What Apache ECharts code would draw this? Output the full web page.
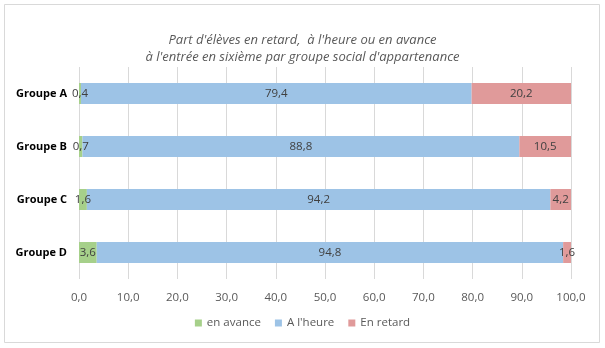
<!DOCTYPE html>
<html><head><meta charset="utf-8">
<script src="https://cdn.jsdelivr.net/npm/echarts@6/dist/echarts.min.js"></script>
<style>html,body{margin:0;padding:0;background:#fff}#c{width:605px;height:348px}</style>
</head><body><div id="c"></div>
<script>
const categories = ['Groupe A','Groupe B','Groupe C','Groupe D'];
const enAvance = [0.4, 0.7, 1.6, 3.6];
const aLHeure = [79.4, 88.8, 94.2, 94.8];
const enRetard = [20.2, 10.5, 4.2, 1.6];
const xTicks = [0,10,20,30,40,50,60,70,80,90,100];
const seriesNames = ['en avance', "A l'heure", 'En retard'];
const colors = ['#a6d08a', '#9dc3e6', '#e09a9a'];

const fmt = v => v.toFixed(1).replace('.', ',');
const chart = echarts.init(document.getElementById('c'), null, {renderer:'canvas'});
const mk = (name, data, color) => ({
  name, type:'bar', stack:'s', data, barWidth:21,
  itemStyle:{color},
  label:{show:true, position:'inside', formatter:p=>fmt(p.value), color:'#404040', fontSize:11.5, fontFamily:'Open Sans'},
  emphasis:{disabled:true}
});
chart.setOption({
  animation:false,
  graphic:[{type:'rect', shape:{x:4.5,y:4.5,width:595,height:338}, style:{fill:'#fff', stroke:'#d9d9d9', lineWidth:1}, z:-10}],
  title:{text:"Part d'élèves en retard,  à l'heure ou en avance\nà l'entrée en sixième par groupe social d'appartenance",
    left:'center', top:27, textStyle:{fontStyle:'italic', fontWeight:'normal', fontSize:13, color:'#595959', fontFamily:'Open Sans', lineHeight:17}},
  legend:{data:seriesNames, bottom:14, left:'center', itemWidth:7, itemHeight:7, itemGap:14, icon:'rect',
    textStyle:{fontSize:11.5, color:'#595959', fontFamily:'Open Sans'}},
  grid:{left:79, right:34, top:67, bottom:69, containLabel:false},
  xAxis:{type:'value', min:0, max:100, interval:10,
    axisLabel:{formatter:v=>fmt(v), color:'#595959', fontSize:11.5, fontFamily:'Open Sans', margin:13},
    splitLine:{lineStyle:{color:'#d9d9d9'}}, axisLine:{show:false}, axisTick:{show:false}},
  yAxis:{type:'category', data:categories, inverse:true,
    axisLabel:{color:'#000', fontWeight:'bold', fontSize:11, fontFamily:'Open Sans', margin:12},
    axisLine:{show:false}, axisTick:{show:false}},
  series:[mk(seriesNames[0], enAvance, colors[0]), mk(seriesNames[1], aLHeure, colors[1]), mk(seriesNames[2], enRetard, colors[2])]
});
</script></body></html>
